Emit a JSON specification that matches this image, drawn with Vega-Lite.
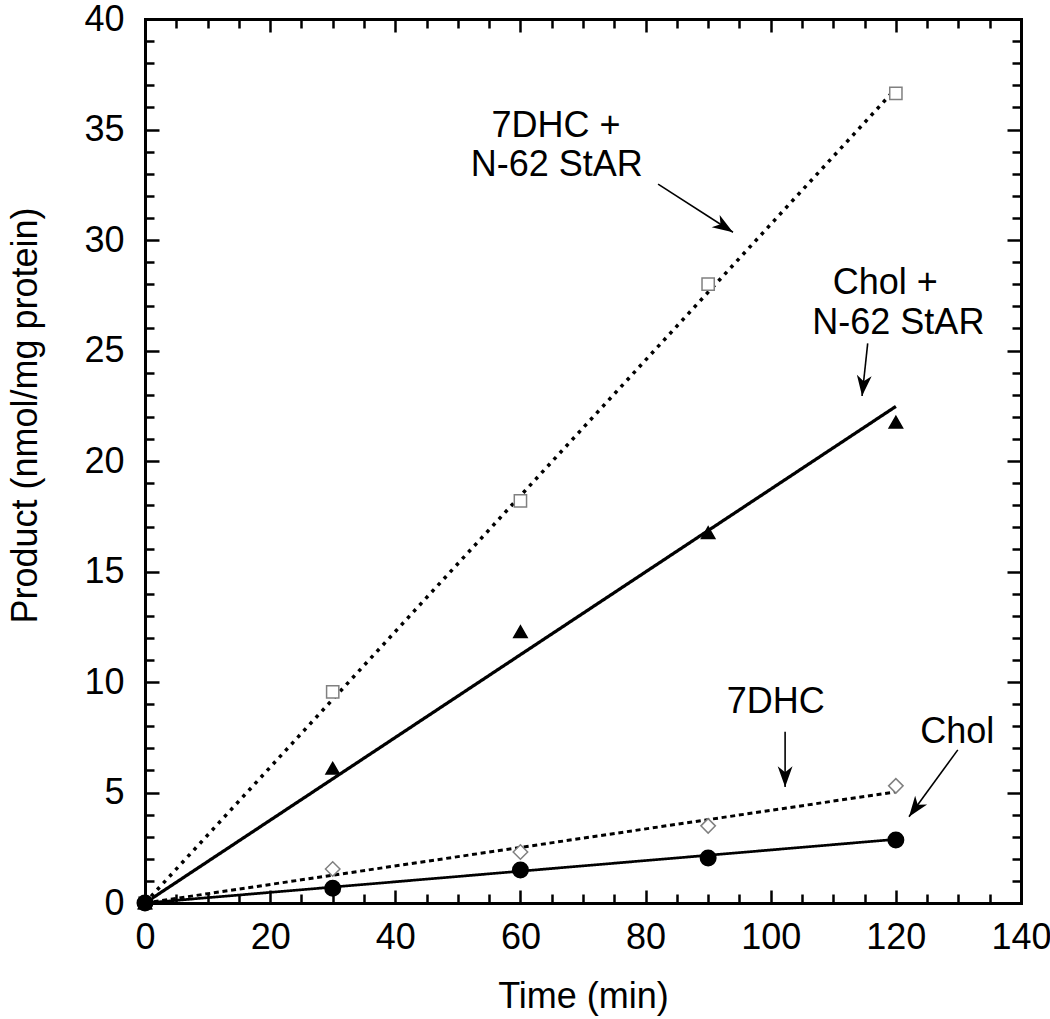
{
  "$schema": "https://vega.github.io/schema/vega-lite/v6.json",
  "width": 876,
  "height": 884,
  "autosize": {"type": "none"},
  "padding": {"left": 145, "top": 19, "right": 29, "bottom": 116},
  "background": "white",
  "config": {
    "view": {"stroke": null},
    "font": "Liberation Sans",
    "axis": {
      "grid": false,
      "domainColor": "black",
      "domainWidth": 3,
      "domainCap": "square",
      "tickColor": "black",
      "tickWidth": 2.5,
      "labelFont": "Liberation Sans",
      "labelFontSize": 36,
      "labelColor": "black",
      "labelOverlap": false,
      "labelFlush": false,
      "titleFont": "Liberation Sans",
      "titleFontSize": 36,
      "titleFontWeight": "normal",
      "titleColor": "black"
    }
  },
  "datasets": {
    "pts": [
      {"series": "7DHC+StAR", "t": 0, "v": 0},
      {"series": "7DHC+StAR", "t": 30, "v": 9.55},
      {"series": "7DHC+StAR", "t": 60, "v": 18.2},
      {"series": "7DHC+StAR", "t": 90, "v": 28.0},
      {"series": "7DHC+StAR", "t": 120, "v": 36.63},
      {"series": "7DHC", "t": 0, "v": 0},
      {"series": "7DHC", "t": 30, "v": 1.54},
      {"series": "7DHC", "t": 60, "v": 2.31},
      {"series": "7DHC", "t": 90, "v": 3.49},
      {"series": "7DHC", "t": 120, "v": 5.3},
      {"series": "Chol+StAR", "t": 0, "v": 0},
      {"series": "Chol+StAR", "t": 30, "v": 6.1},
      {"series": "Chol+StAR", "t": 60, "v": 12.28},
      {"series": "Chol+StAR", "t": 90, "v": 16.76},
      {"series": "Chol+StAR", "t": 120, "v": 21.76},
      {"series": "Chol", "t": 0, "v": 0},
      {"series": "Chol", "t": 30, "v": 0.67},
      {"series": "Chol", "t": 60, "v": 1.49},
      {"series": "Chol", "t": 90, "v": 2.04},
      {"series": "Chol", "t": 120, "v": 2.85}
    ],
    "fit": [
      {"series": "7DHC+StAR", "t": 0, "v": 0},
      {"series": "7DHC+StAR", "t": 120, "v": 36.85},
      {"series": "Chol+StAR", "t": 0, "v": 0},
      {"series": "Chol+StAR", "t": 120, "v": 22.47},
      {"series": "7DHC", "t": 0, "v": 0},
      {"series": "7DHC", "t": 120, "v": 5.03},
      {"series": "Chol", "t": 0, "v": 0},
      {"series": "Chol", "t": 120, "v": 2.88}
    ],
    "labels": [
      {"x": 65.7, "y": 35.25, "text": "7DHC +"},
      {"x": 65.8, "y": 33.5, "text": "N-62 StAR"},
      {"x": 118.3, "y": 28.15, "text": "Chol +"},
      {"x": 120.4, "y": 26.35, "text": "N-62 StAR"},
      {"x": 100.8, "y": 9.2, "text": "7DHC"},
      {"x": 129.8, "y": 7.84, "text": "Chol"}
    ],
    "arrows": [
      {"x": 82.0, "y": 32.53, "x2": 93.97, "y2": 30.35, "angle": 122.7},
      {"x": 115.5, "y": 25.32, "x2": 114.6, "y2": 22.94, "angle": 186.1},
      {"x": 102.3, "y": 7.75, "x2": 102.3, "y2": 5.25, "angle": 180},
      {"x": 129.9, "y": 6.93, "x2": 122.1, "y2": 3.9, "angle": 216.1}
    ]
  },
  "layer": [
    {
      "data": {"name": "fit"},
      "mark": {"type": "line", "color": "black"},
      "encoding": {
        "x": {
          "field": "t", "type": "quantitative",
          "scale": {"domain": [0, 140], "nice": false},
          "axis": {
            "orient": "bottom",
            "title": "Time (min)",
            "values": [0,5,10,15,20,25,30,35,40,45,50,55,60,65,70,75,80,85,90,95,100,105,110,115,120,125,130,135,140],
            "labelExpr": "datum.value % 20 === 0 ? datum.label : ''",
            "tickSize": {"condition": {"test": "datum.value % 20 === 0", "value": -13}, "value": -9},
            "labelPadding": 30,
            "titleY": 93,
            "titleBaseline": "middle"
          }
        },
        "y": {
          "field": "v", "type": "quantitative",
          "scale": {"domain": [0, 40], "nice": false},
          "axis": {
            "orient": "left",
            "title": "Product (nmol/mg protein)",
            "values": [0,1,2,3,4,5,6,7,8,9,10,11,12,13,14,15,16,17,18,19,20,21,22,23,24,25,26,27,28,29,30,31,32,33,34,35,36,37,38,39,40],
            "labelExpr": "datum.value % 5 === 0 ? datum.label : ''",
            "tickSize": {"condition": {"test": "datum.value % 5 === 0", "value": -14}, "value": -9},
            "labelPadding": 35,
            "titleAngle": -90,
            "titleX": -120,
            "titleY": 396,
            "titleAlign": "center",
            "titleBaseline": "middle"
          }
        },
        "detail": {"field": "series", "type": "nominal"},
        "strokeDash": {
          "field": "series", "type": "nominal",
          "scale": {"domain": ["7DHC+StAR", "Chol+StAR", "7DHC", "Chol"], "range": [[3.5, 5.5], [1, 0], [5, 3.7], [1, 0]]},
          "legend": null
        },
        "strokeWidth": {
          "field": "series", "type": "nominal",
          "scale": {"domain": ["7DHC+StAR", "Chol+StAR", "7DHC", "Chol"], "range": [3.5, 2.7, 3, 2.4]},
          "legend": null
        }
      }
    },
    {
      "data": {"name": "pts"},
      "mark": {"type": "point", "strokeWidth": 1.5, "opacity": 1},
      "encoding": {
        "x": {
          "field": "t", "type": "quantitative",
          "axis": {
            "orient": "top",
            "title": null,
            "labels": false,
            "values": [0,5,10,15,20,25,30,35,40,45,50,55,60,65,70,75,80,85,90,95,100,105,110,115,120,125,130,135,140],
            "tickSize": {"condition": {"test": "datum.value % 20 === 0", "value": -13}, "value": -9}
          }
        },
        "y": {
          "field": "v", "type": "quantitative",
          "axis": {
            "orient": "right",
            "title": null,
            "labels": false,
            "values": [0,1,2,3,4,5,6,7,8,9,10,11,12,13,14,15,16,17,18,19,20,21,22,23,24,25,26,27,28,29,30,31,32,33,34,35,36,37,38,39,40],
            "tickSize": {"condition": {"test": "datum.value % 5 === 0", "value": -14}, "value": -9}
          }
        },
        "shape": {
          "field": "series", "type": "nominal",
          "scale": {"domain": ["7DHC+StAR", "Chol+StAR", "7DHC", "Chol"], "range": ["square", "triangle-up", "diamond", "circle"]},
          "legend": null
        },
        "fill": {
          "field": "series", "type": "nominal",
          "scale": {"domain": ["7DHC+StAR", "Chol+StAR", "7DHC", "Chol"], "range": ["white", "black", "white", "black"]},
          "legend": null
        },
        "stroke": {
          "field": "series", "type": "nominal",
          "scale": {"domain": ["7DHC+StAR", "Chol+StAR", "7DHC", "Chol"], "range": ["#808080", "black", "#808080", "black"]},
          "legend": null
        },
        "size": {
          "field": "series", "type": "nominal",
          "scale": {"domain": ["7DHC+StAR", "Chol+StAR", "7DHC", "Chol"], "range": [150, 240, 200, 240]},
          "legend": null
        }
      }
    },
    {
      "data": {"name": "labels"},
      "mark": {"type": "text", "fontSize": 36, "font": "Liberation Sans", "align": "center", "baseline": "middle", "dy": 2, "color": "black"},
      "encoding": {
        "x": {"field": "x", "type": "quantitative", "axis": null},
        "y": {"field": "y", "type": "quantitative", "axis": null},
        "text": {"field": "text", "type": "nominal"}
      }
    },
    {
      "data": {"name": "arrows"},
      "mark": {"type": "rule", "color": "black", "strokeWidth": 1.6},
      "encoding": {
        "x": {"field": "x", "type": "quantitative", "axis": null},
        "y": {"field": "y", "type": "quantitative", "axis": null},
        "x2": {"field": "x2"},
        "y2": {"field": "y2"}
      }
    },
    {
      "data": {"name": "arrows"},
      "mark": {"type": "point", "shape": "M0,0 L0.36,1 L0,0.72 L-0.36,1 Z", "filled": true, "color": "black", "opacity": 1, "size": 1700},
      "encoding": {
        "x": {"field": "x2", "type": "quantitative", "axis": null},
        "y": {"field": "y2", "type": "quantitative", "axis": null},
        "angle": {"field": "angle", "type": "quantitative", "scale": null}
      }
    }
  ],
  "resolve": {"axis": {"x": "independent", "y": "independent"}}
}
